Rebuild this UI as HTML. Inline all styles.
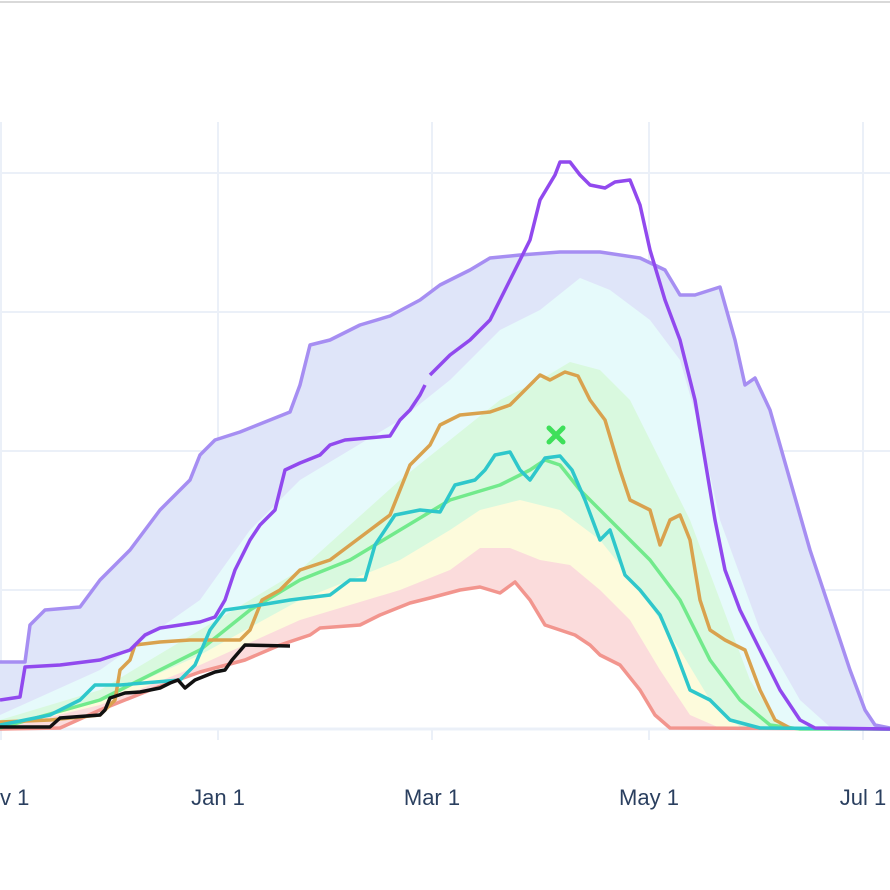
<!DOCTYPE html>
<html><head><style>
html,body{margin:0;padding:0;background:#fff;}
svg{display:block;}
text{font-family:"Liberation Sans",sans-serif;font-size:22px;fill:#2a3f5f;}
</style></head><body>
<svg width="890" height="890" viewBox="0 0 890 890">
<rect x="0" y="0" width="890" height="890" fill="#fff"/>
<line x1="0" y1="2" x2="890" y2="2" stroke="#d9d9d9" stroke-width="2"/>
<g stroke="#ebf0f8" stroke-width="2">
<line x1="1" y1="122" x2="1" y2="740"/><line x1="218" y1="122" x2="218" y2="740"/>
<line x1="432" y1="122" x2="432" y2="740"/><line x1="649" y1="122" x2="649" y2="740"/>
<line x1="863" y1="122" x2="863" y2="740"/>
<line x1="0" y1="173" x2="890" y2="173"/><line x1="0" y1="312" x2="890" y2="312"/>
<line x1="0" y1="451" x2="890" y2="451"/><line x1="0" y1="590" x2="890" y2="590"/>
</g>
<!-- bands -->
<polygon fill="#dfe5f9" points="0,729 0,662 25,662 30,625 45,610 80,607 100,580 130,550 160,510 190,480 200,455 215,440 240,432 270,420 290,412 300,385 310,345 330,340 360,325 390,316 420,300 440,285 470,270 490,258 520,255 560,252 600,252 640,258 665,270 680,295 695,295 720,287 735,340 745,385 755,378 770,410 790,480 810,550 830,610 850,670 865,710 875,725 890,728 890,729"/>
<polygon fill="#e6fafb" points="0,729 0,715 100,670 200,600 250,530 300,480 400,420 450,380 500,330 540,310 580,278 610,290 650,320 680,360 700,430 720,520 760,630 800,700 830,727 840,729"/>
<polygon fill="#d9f9df" points="0,729 0,720 100,690 200,630 300,570 400,480 450,440 500,400 540,380 570,362 600,370 630,400 660,460 690,520 720,600 750,680 780,727 790,729"/>
<polygon fill="#fdfbdc" points="0,729 100,700 200,655 300,600 400,560 450,530 480,510 520,500 560,510 600,540 640,590 680,650 710,700 740,727 750,729"/>
<polygon fill="#fbdcdc" points="0,729 100,705 200,665 300,620 400,590 450,570 480,548 510,548 540,560 570,565 600,590 630,620 660,670 690,715 720,728 730,729"/>
<polygon fill="#fff" points="0,729 60,728 100,710 150,690 200,672 245,660 280,645 310,635 320,628 360,625 380,615 410,603 430,598 460,590 480,587 500,593 515,582 530,600 545,625 560,630 575,635 590,645 600,655 620,665 640,690 655,715 670,728 680,729"/>
<line x1="0" y1="729" x2="890" y2="729" stroke="#ebf0f8" stroke-width="3"/>
<g fill="none" stroke-width="3.5" stroke-linejoin="round">
<polyline stroke="#a68ef2" points="0,662 25,662 30,625 45,610 80,607 100,580 130,550 160,510 190,480 200,455 215,440 240,432 270,420 290,412 300,385 310,345 330,340 360,325 390,316 420,300 440,285 470,270 490,258 520,255 560,252 600,252 640,258 665,270 680,295 695,295 720,287 735,340 745,385 755,378 770,410 790,480 810,550 830,610 850,670 865,710 875,725 890,728"/>
<polyline stroke="#f2958e" points="0,729 60,728 100,710 150,690 200,672 245,660 280,645 310,635 320,628 360,625 380,615 410,603 430,598 460,590 480,587 500,593 515,582 530,600 545,625 560,630 575,635 590,645 600,655 620,665 640,690 655,715 670,728 890,729"/>
<polyline stroke="#72ea8c" points="0,728 100,700 200,650 250,610 300,580 350,560 400,530 450,500 500,485 530,470 545,460 560,465 580,490 610,520 650,560 680,600 710,660 740,700 770,725 800,729 890,729"/>
<polyline stroke="#d9a24e" points="0,722 50,720 100,715 115,700 120,670 130,660 135,645 160,642 190,640 240,640 250,630 262,600 280,590 300,570 330,560 350,545 370,530 390,515 400,490 410,465 430,445 440,425 460,415 490,412 510,405 525,390 540,375 550,380 565,372 578,376 590,400 605,420 620,470 630,500 650,510 660,545 670,520 680,515 690,540 700,600 710,630 725,640 745,650 760,690 775,720 790,728"/>
<polyline stroke="#2ec7cb" points="0,725 50,715 80,700 95,685 120,685 180,680 195,665 210,630 225,610 260,605 290,600 330,595 350,580 365,580 375,545 395,515 420,510 440,512 455,485 475,480 485,470 495,455 510,452 520,470 530,480 545,458 560,456 572,470 585,500 600,540 610,530 625,575 640,590 660,615 675,650 690,690 710,700 730,720 760,728 890,729"/>
<polyline stroke="#9149ee" points="0,700 20,697 25,667 60,665 100,660 130,650 145,635 160,628 200,622 215,617 225,600 235,570 240,560 250,540 260,525 275,510 285,470 300,463 320,455 330,445 345,440 390,436 400,420 410,410 420,395 425,385"/>
<polyline stroke="#9149ee" points="430,375 450,355 470,340 490,320 500,300 515,270 530,240 540,200 555,175 560,162 570,162 580,175 590,185 605,188 615,182 630,180 640,205 650,250 665,300 680,340 695,400 705,460 715,520 725,570 740,610 760,650 780,690 800,720 815,728 890,729"/>
<polyline stroke="#111" points="0,727 50,727 60,718 100,715 105,710 110,698 125,693 140,692 160,688 170,683 178,680 185,688 195,680 200,678 215,672 225,670 232,660 245,645 290,646"/>
</g>
<g stroke="#3ee05a" stroke-width="5" stroke-linecap="round">
<line x1="549" y1="428" x2="563" y2="442"/><line x1="563" y1="428" x2="549" y2="442"/>
</g>
<text x="0" y="805">v 1</text>
<text x="218" y="805" text-anchor="middle">Jan 1</text>
<text x="432" y="805" text-anchor="middle">Mar 1</text>
<text x="649" y="805" text-anchor="middle">May 1</text>
<text x="863" y="805" text-anchor="middle">Jul 1</text>
</svg>
</body></html>
